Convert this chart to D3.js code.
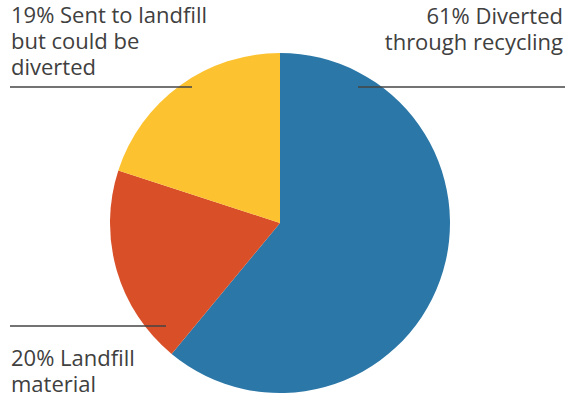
<!DOCTYPE html>
<html><head><meta charset="utf-8">
<script src="https://cdn.jsdelivr.net/npm/d3@7/dist/d3.min.js"></script>
<style>body{margin:0;background:#fff;}svg{display:block;}</style>
</head><body>
<svg id="c" width="565" height="398"></svg>
<script>
const categories = ["Diverted through recycling", "Landfill material", "Sent to landfill but could be diverted"];
const values = [61, 19, 20];
const colors = ["#2a77a8", "#d94f28", "#fcc22f"];
const labels = [
  ["61% Diverted", "through recycling"],
  ["20% Landfill", "material"],
  ["19% Sent to landfill", "but could be", "diverted"]
];

const svg = d3.select("#c");
const cx = 280, cy = 223, r = 170;
const pie = d3.pie().sort(null).value(d => d);
const arc = d3.arc().innerRadius(0).outerRadius(r);
const g = svg.append("g").attr("transform", `translate(${cx},${cy})`);
g.selectAll("path").data(pie(values)).join("path")
  .attr("d", arc).attr("fill", (d, i) => colors[i]);

const font = "'Open Sans', sans-serif";
function block(lines, x, y0, anchor) {
  const t = svg.append("text").attr("font-family", font).attr("font-size", 22)
    .attr("fill", "#404040").attr("text-anchor", anchor);
  lines.forEach((l, i) => t.append("tspan").attr("x", x).attr("y", y0 + i * 26).text(l));
}
block(labels[2], 11, 23, "start");
block(labels[0], 563, 24, "end");
block(labels[1], 11, 366, "start");

const lineStyle = s => s.attr("stroke", "#444").attr("stroke-width", 1.4);
lineStyle(svg.append("line").attr("x1", 10).attr("x2", 192).attr("y1", 87).attr("y2", 87));
lineStyle(svg.append("line").attr("x1", 358).attr("x2", 565).attr("y1", 87).attr("y2", 87));
lineStyle(svg.append("line").attr("x1", 10).attr("x2", 166).attr("y1", 326).attr("y2", 326));
</script>
</body></html>
